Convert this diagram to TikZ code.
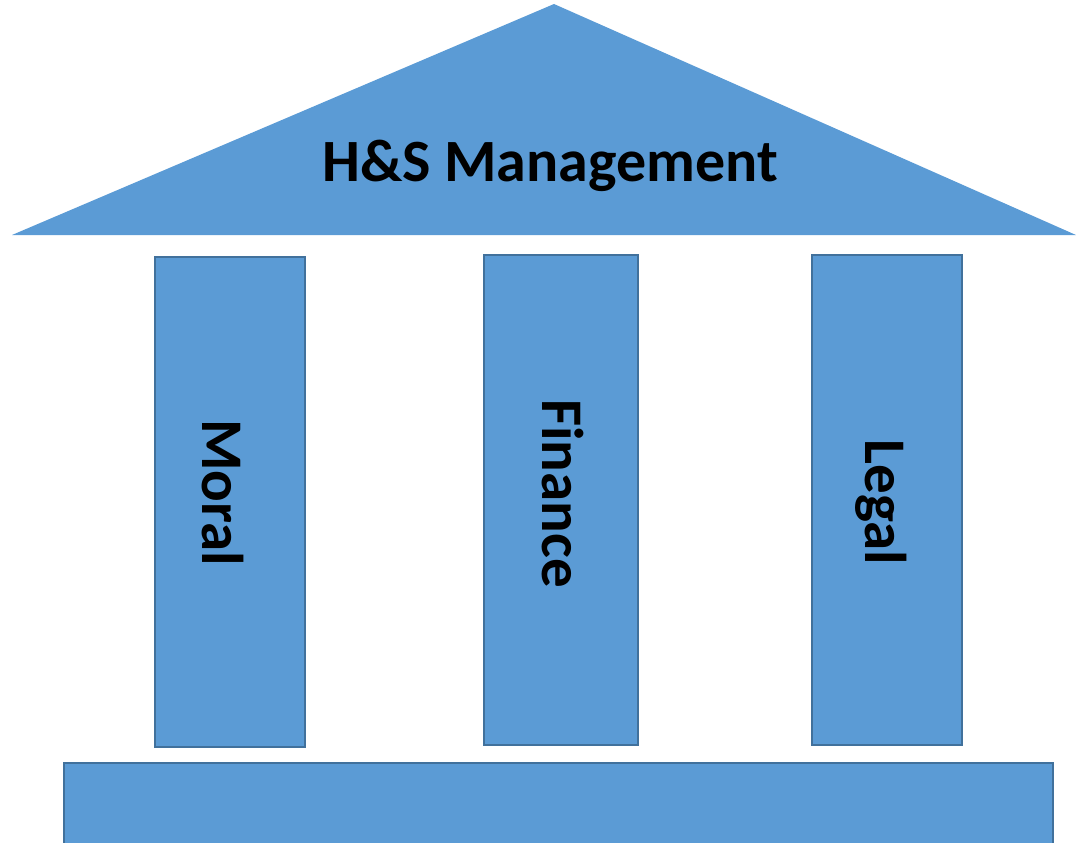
\documentclass[tikz,border=0pt]{standalone}
\usepackage{fontspec}
\setmainfont{Carlito}
\newfontfamily\titlefont{Carlito}
\definecolor{pfill}{HTML}{5B9BD5}
\definecolor{pline}{HTML}{41719C}
\begin{document}
\begin{tikzpicture}[x=1pt,y=-1pt]
\tikzset{
  pillar/.style={fill=pfill,draw=pline,line width=1.2pt},
  plabel/.style={rotate=-90,anchor=base,font=\titlefont\bfseries\fontsize{59}{64}\selectfont,text=black,inner sep=0pt}
}
\useasboundingbox (0,0) rectangle (1076,843);
\fill[pfill] (554,4) -- (1076,235) -- (12,235) -- cycle;
\node[anchor=base,font=\titlefont\bfseries\fontsize{60}{66}\selectfont,inner sep=0pt] (title) at (550,181) {H\&S Management};
\draw[pillar] (155,257) rectangle (305,747);
\draw[pillar] (484,255) rectangle (638,745);
\draw[pillar] (812,255) rectangle (962,745);
\draw[pillar] (64,763) rectangle (1053,850);
\node[plabel] (moral) at (202,492.5) {Moral};
\node[plabel] (finance) at (542,493.5) {Finance};
\node[plabel] (legal) at (865,502.5) {Legal};
\end{tikzpicture}
\end{document}
